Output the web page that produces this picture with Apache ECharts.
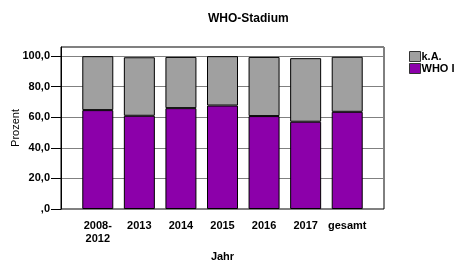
<!DOCTYPE html>
<html>
<head>
<meta charset="utf-8">
<script src="https://cdn.jsdelivr.net/npm/echarts@6/dist/echarts.min.js"></script>
<style>
  html, body { margin: 0; padding: 0; background: #fff; }
  #grafico { width: 455px; height: 264px; }
</style>
</head>
<body>
<div id="grafico"></div>
<script>
// Datos
const kategorien = ['2008-\n2012', '2013', '2014', '2015', '2016', '2017', 'gesamt'];
const whoI = [64.7, 61.0, 66.0, 67.7, 60.8, 57.1, 63.6];
const keineAngabe = [35.3, 38.3, 33.5, 32.3, 38.7, 41.6, 36.0];
const yTicks = [0, 20, 40, 60, 80, 100];

const schrift = "'Liberation Sans', Arial, sans-serif";

function formatProzent(v) {
    return v === 0 ? ',0' : v.toFixed(1).replace('.', ',');
}

function crearGrafico() {
    return {
        animation: false,
        title: {
            text: 'WHO-Stadium',
            left: 203,
            top: 8,
            textStyle: { fontFamily: schrift, fontSize: 12, fontWeight: 'bold', color: '#000' }
        },
        legend: {
            data: ['k.A.', 'WHO I'],
            orient: 'vertical',
            left: 409,
            top: 51,
            padding: 0,
            icon: 'rect',
            itemWidth: 11,
            itemHeight: 10,
            itemGap: 1,
            textStyle: {
                fontFamily: schrift, fontSize: 11, fontWeight: 'bold', color: '#000',
                padding: [0, 0, 0, -4], overflow: 'none', width: 60
            },
            itemStyle: { borderColor: '#333', borderWidth: 1 }
        },
        grid: [
            // Rahmen
            { left: 61, right: 71, top: 47, bottom: 55, show: true, borderColor: '#000', borderWidth: 1,
              backgroundColor: '#fff', containLabel: false, outerBoundsMode: 'none' },
            // Balken
            { left: 77, right: 87, top: 47, bottom: 55, show: false, containLabel: false, outerBoundsMode: 'none' }
        ],
        xAxis: [
            { gridIndex: 0, type: 'category', data: [], show: false },
            {
                gridIndex: 1,
                type: 'category',
                data: kategorien,
                name: 'Jahr',
                nameLocation: 'middle',
                nameGap: 42,
                nameTextStyle: { fontFamily: schrift, fontSize: 11, fontWeight: 'bold', color: '#000' },
                axisLine: { show: false },
                axisTick: { alignWithLabel: true, length: 7, lineStyle: { color: '#000' } },
                axisLabel: { interval: 0, margin: 10, fontFamily: schrift, fontSize: 11, fontWeight: 'bold', color: '#000', lineHeight: 13 }
            }
        ],
        yAxis: [
            {
                gridIndex: 0,
                type: 'value',
                min: 0,
                max: 106,
                interval: 20,
                name: 'Prozent',
                nameLocation: 'middle',
                nameRotate: 90,
                nameGap: 40,
                nameMoveOverlap: false,
                nameTextStyle: { fontFamily: schrift, fontSize: 11, color: '#000' },
                axisLine: { show: true, lineStyle: { color: '#000' } },
                axisTick: { show: true, length: 10, lineStyle: { color: '#000' } },
                axisLabel: {
                    margin: 11,
                    showMaxLabel: false,
                    fontFamily: schrift, fontSize: 11, fontWeight: 'bold', color: '#000',
                    formatter: v => (yTicks.includes(v) ? formatProzent(v) : '')
                },
                splitLine: { show: true, lineStyle: { color: '#808080', width: 1 } }
            },
            { gridIndex: 1, type: 'value', min: 0, max: 106, show: false }
        ],
        series: [
            {
                name: 'WHO I',
                type: 'bar',
                stack: 'gesamt',
                xAxisIndex: 1,
                yAxisIndex: 1,
                barWidth: 31,
                itemStyle: { color: '#8c00aa', borderColor: '#000', borderWidth: 1 },
                data: whoI
            },
            {
                name: 'k.A.',
                type: 'bar',
                stack: 'gesamt',
                xAxisIndex: 1,
                yAxisIndex: 1,
                barWidth: 31,
                itemStyle: { color: '#a0a0a0', borderColor: '#000', borderWidth: 1 },
                data: keineAngabe
            }
        ]
    };
}

const chart = echarts.init(document.getElementById('grafico'), null, { renderer: 'canvas' });
chart.setOption(crearGrafico());
</script>
</body>
</html>
